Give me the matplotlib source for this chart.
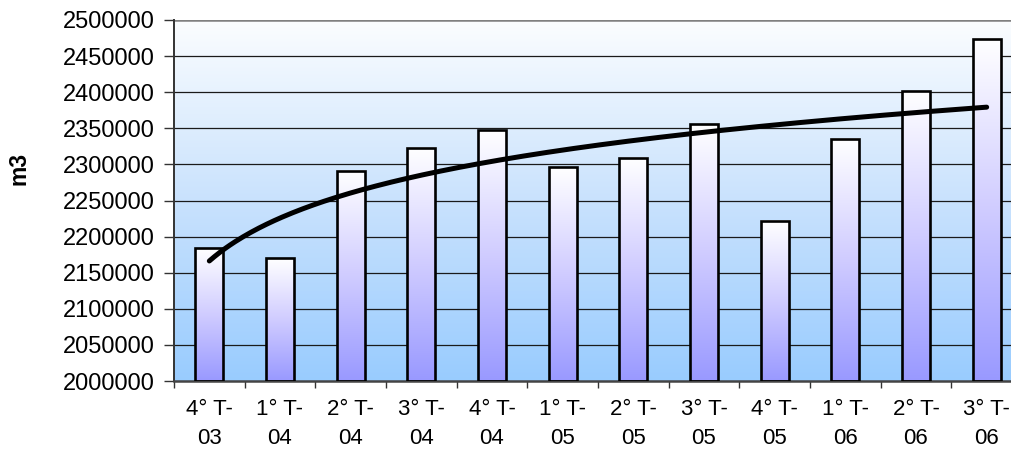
import numpy as np
import matplotlib
matplotlib.use("Agg")
import matplotlib.pyplot as plt
from matplotlib.colors import LinearSegmentedColormap

categories = ["4° T-\n03", "1° T-\n04", "2° T-\n04", "3° T-\n04", "4° T-\n04", "1° T-\n05",
              "2° T-\n05", "3° T-\n05", "4° T-\n05", "1° T-\n06", "2° T-\n06", "3° T-\n06"]
values = [2183800, 2170000, 2291000, 2323000, 2347600, 2296000,
          2309000, 2355500, 2222000, 2335600, 2401000, 2474000]
y_ticks = [2000000, 2050000, 2100000, 2150000, 2200000, 2250000,
           2300000, 2350000, 2400000, 2450000, 2500000]

plt.rcParams['font.family'] = ['Liberation Sans', 'DejaVu Sans']

fig = plt.figure(figsize=(10.11, 4.5), dpi=100)
ax = fig.add_axes([174/1011, 69/450, 848/1011, 361/450])

ymin, ymax = 2000000, 2500000
n = len(values)
xpos = np.arange(n)
xlim = (-0.5, n - 0.5)

# background gradient
bg_cmap = LinearSegmentedColormap.from_list("bg", ["#99ccff", "#c9e2fd", "#fbfdff"])
grad = np.linspace(0, 1, 256).reshape(-1, 1)
ax.imshow(grad, cmap=bg_cmap, origin="lower", aspect="auto",
          extent=(xlim[0], xlim[1], ymin, ymax), zorder=0)

# gridlines
for t in y_ticks[1:-1]:
    ax.axhline(t, color="#1a1a1a", lw=0.9, zorder=1)
ax.axhline(ymax, color="#808080", lw=1.8, zorder=1)

# bars with gradient
bar_cmap = LinearSegmentedColormap.from_list("bar", ["#9999ff", "#d0ccff", "#ffffff"])
w = 0.4
for x, v in zip(xpos, values):
    ax.imshow(grad, cmap=bar_cmap, origin="lower", aspect="auto",
              extent=(x - w/2, x + w/2, ymin, v), zorder=2)
ax.bar(xpos, np.array(values) - ymin, bottom=ymin, width=w, fill=False,
       edgecolor="black", linewidth=1.9, zorder=3)

# logarithmic trend line
xl = np.arange(1, n + 1)
b, a = np.polyfit(np.log(xl), values, 1)
xf = np.linspace(1, n, 300)
ax.plot(xf - 1, a + b * np.log(xf), color="black", lw=3.6, solid_capstyle="round", zorder=4)

ax.set_xlim(*xlim)
ax.set_ylim(ymin, ymax)
ax.set_yticks(y_ticks)
ax.set_yticklabels([str(t) for t in y_ticks], fontsize=17)
ax.set_xticks(np.arange(n + 1) - 0.5, minor=False)
ax.set_xticklabels([])
ax.set_xticks(xpos, minor=True)
ax.set_xticklabels(categories, minor=True, fontsize=16, linespacing=1.5)
ax.tick_params(axis="x", which="minor", length=0, pad=13)
ax.tick_params(axis="x", which="major", length=5, width=1, color="#333333")
ax.tick_params(axis="y", length=7, width=1, color="#333333", pad=7)

for s in ["top", "right"]:
    ax.spines[s].set_visible(False)
ax.spines["left"].set_color("#333333")
ax.spines["left"].set_linewidth(1.4)
ax.spines["bottom"].set_color("#444444")
ax.spines["bottom"].set_linewidth(1.8)

fig.text(19/1011, 1 - 168/450, "m3", rotation=90, fontsize=16.5, fontweight="bold",
         ha="center", va="center")

fig.savefig("out.png", dpi=100)
